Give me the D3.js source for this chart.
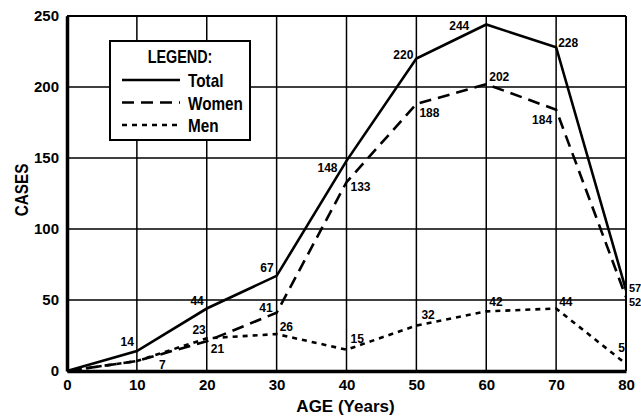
<!DOCTYPE html>
<html>
<head>
<meta charset="utf-8">
<script src="https://cdn.jsdelivr.net/npm/d3@7"></script>
<style>
  body { margin: 0; background: #fff; }
  text { font-family: "Liberation Sans", Arial, sans-serif; font-weight: bold; fill: #000; }
</style>
</head>
<body>
<script>
// chart data
var ages = [0, 10, 20, 30, 40, 50, 60, 70, 80]
var total = [0, 14, 44, 67, 148, 220, 244, 228, 57]
var women = [0, 7, 21, 41, 133, 188, 202, 184, 52]
var men = [0, 7, 23, 26, 15, 32, 42, 44, 5]
var xTicks = [0, 10, 20, 30, 40, 50, 60, 70, 80]
var yTicks = [0, 50, 100, 150, 200, 250]

var width = 641, height = 417
var margin = {top: 16, right: 15, bottom: 46, left: 67}
var w = width - margin.left - margin.right,
    h = height - margin.top - margin.bottom

var svg = d3.select("body").append("svg")
    .attr("width", width)
    .attr("height", height)

var g = svg.append("g")
    .attr("transform", "translate(" + margin.left + "," + margin.top + ")")

var x = d3.scaleLinear().domain([0, 80]).range([0, w])
var y = d3.scaleLinear().domain([0, 250]).range([h, 0])

// grid
g.selectAll(".vgrid").data(xTicks).enter().append("line")
    .attr("x1", d => x(d)).attr("x2", d => x(d))
    .attr("y1", 0).attr("y2", h)
    .attr("stroke", "#000").attr("stroke-width", 1.5)
g.selectAll(".hgrid").data(yTicks).enter().append("line")
    .attr("x1", 0).attr("x2", w)
    .attr("y1", d => y(d)).attr("y2", d => y(d))
    .attr("stroke", "#000").attr("stroke-width", 1.5)

// frame
g.append("line").attr("x1", 0).attr("x2", w).attr("y1", 0).attr("y2", 0)
    .attr("stroke", "#000").attr("stroke-width", 2)
g.append("line").attr("x1", w).attr("x2", w).attr("y1", 0).attr("y2", h)
    .attr("stroke", "#000").attr("stroke-width", 2)

// axes
var xAxis = g.append("g")
    .attr("transform", "translate(0," + h + ")")
    .call(d3.axisBottom(x).tickValues(xTicks).tickSize(0).tickPadding(8))
xAxis.select(".domain").attr("stroke-width", 3.5)
xAxis.selectAll("text").attr("font-size", 15).style("font-family", "Liberation Sans, Arial, sans-serif")

var yAxis = g.append("g")
    .call(d3.axisLeft(y).tickValues(yTicks).tickSize(0).tickPadding(8))
yAxis.select(".domain").attr("stroke-width", 3.5)
yAxis.selectAll("text").attr("font-size", 15).style("font-family", "Liberation Sans, Arial, sans-serif")

// axis titles
svg.append("text")
    .attr("x", margin.left + w / 2 - 1)
    .attr("y", 412)
    .attr("text-anchor", "middle")
    .attr("font-size", 17)
    .text("AGE (Years)")
svg.append("text")
    .attr("transform", "translate(28,190) rotate(-90) scale(0.85,1)")
    .attr("text-anchor", "middle")
    .attr("font-size", 18)
    .text("CASES")

var series = [
  {name: "Total", values: total, dash: null},
  {name: "Women", values: women, dash: "12,7"},
  {name: "Men", values: men, dash: "5,5"}
]

var line = d3.line()
    .x((d, i) => x(ages[i]))
    .y(d => y(d))

g.selectAll(".series").data(series).enter().append("path")
    .attr("d", d => line(d.values))
    .attr("fill", "none")
    .attr("stroke", "#000")
    .attr("stroke-width", 2.6)
    .attr("stroke-dasharray", d => d.dash)

// label offsets [dx, dy, anchor] per point (skip age 0)
var labelPos = {
  Total: [null, [-3, -9, "end"], [-3, -8, "end"], [-3, -8, "end"], [-9, 7, "end"], [-3, -4, "end"], [-17, 1, "end"], [2, -4, "start"], [3, -2, "start"]],
  Women: [null, [22, 4, "start"], [4, 8, "start"], [-4, -5, "end"], [4, 5, "start"], [3, 9, "start"], [3, -7, "start"], [-4, 10, "end"], [3, 5, "start"]],
  Men: [null, null, [-1, -8, "end"], [3, -7, "start"], [4, -11, "start"], [5, -11, "start"], [3, -9, "start"], [3, -7, "start"], [-1, -16, "end"]]
}

series.forEach(function(s) {
  s.values.forEach(function(v, i) {
    var p = labelPos[s.name][i]
    if (!p) return
    g.append("text")
        .attr("x", x(ages[i]) + p[0])
        .attr("y", y(v) + p[1])
        .attr("text-anchor", p[2])
        .attr("font-size", i == 8 && s.name != "Men" ? 11 : 12)
        .attr("dominant-baseline", "central")
        .text(v)
  })
})

// legend
var legend = svg.append("g").attr("transform", "translate(110,41)")
legend.append("rect")
    .attr("width", 140).attr("height", 99)
    .attr("fill", "#fff").attr("stroke", "#000").attr("stroke-width", 2)
legend.append("text")
    .attr("transform", "translate(70,22) scale(0.8,1)")
    .attr("text-anchor", "middle")
    .attr("font-size", 18)
    .text("LEGEND:")
series.forEach(function(s, i) {
  var ly = 39 + i * 22.5
  legend.append("line")
      .attr("x1", 12).attr("x2", 70)
      .attr("y1", ly).attr("y2", ly)
      .attr("stroke", "#000").attr("stroke-width", 2.4)
      .attr("stroke-dasharray", s.dash)
  legend.append("text")
      .attr("transform", "translate(78," + (ly + 7) + ") scale(0.85,1)")
      .attr("font-size", 18)
      .text(s.name)
})
</script>
</body>
</html>
